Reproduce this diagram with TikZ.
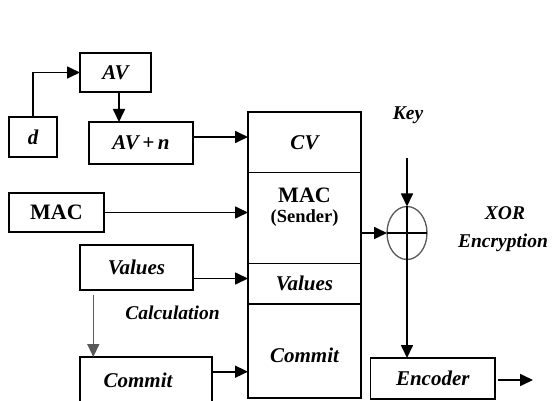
\documentclass[tikz,border=0pt]{standalone}
\usepackage{fontspec}
\setmainfont{Liberation Serif}
\usetikzlibrary{arrows.meta,shapes.geometric}
\begin{document}
\begin{tikzpicture}[x=1pt,y=-1pt,
  every node/.style={inner sep=0pt,outer sep=0pt},
  txt/.style={font=\fontsize{21}{23}\selectfont\bfseries\itshape},
  stxt/.style={font=\fontsize{19.5}{21}\selectfont\bfseries\itshape},
  upr/.style={font=\fontsize{22}{24}\selectfont\bfseries},
  bx/.style={draw,line width=1.7pt,rectangle,txt},
  arr/.style={line width=1.7pt,-{Triangle[length=13pt,width=12pt]}},
  garr/.style={line width=1.4pt,draw=black!65,-{Triangle[length=13pt,width=12pt]}},
  ln/.style={line width=1.7pt}]
\useasboundingbox (0,0) rectangle (552,401);
\begin{scope}
\clip (0,0) rectangle (552,401);
% left boxes
\node[bx,minimum width=48pt,minimum height=40pt] (d) at (33,137) {d};
\node[bx,minimum width=71pt,minimum height=39pt] (av) at (115.5,72.5) {AV};
\node[bx,minimum width=104pt,minimum height=42pt] (avn) at (141,143) {AV\,+\,n};
\node[bx,upr,minimum width=95pt,minimum height=39pt] (macl) at (56.5,212.5) {MAC};
\node[bx,minimum width=113pt,minimum height=45pt] (vall) at (136.5,267.5) {Values};
\node[draw,line width=1.7pt,minimum width=132pt,minimum height=48pt] (coml) at (146,381) {};
\node[txt] (comlt) at (138,380) {Commit};
% big box sections
\node[draw,line width=1.7pt,minimum width=113pt,minimum height=60.5pt,txt] (cv) at (304.5,142.25) {CV};
\node[draw,line width=1.7pt,minimum width=113pt,minimum height=91pt] (mac) at (304.5,218) {};
\node[upr] (mact) at (304.5,195) {MAC};
\node[font=\fontsize{18.5}{20}\selectfont\bfseries] (sendt) at (304.5,218) {(Sender)};
\node[draw,line width=1.7pt,minimum width=113pt,minimum height=40.5pt,txt] (vals) at (304.5,283.75) {Values};
\node[draw,line width=1.7pt,minimum width=113pt,minimum height=94pt] (com) at (304.5,351) {};
\node[txt] (comt) at (304.5,355) {Commit};
% XOR
\node[ellipse,draw=black!65,line width=1.3pt,minimum width=40pt,minimum height=53pt] (xo) at (407,233) {};
\draw[ln] (xo.west) -- (xo.east);
\draw[ln] (xo.north) -- (xo.south);
\node[stxt] (key) at (408,115) {Key};
\coordinate (keytop) at (407,158);
\node[stxt] (xor) at (505,213) {XOR};
\node[stxt] (enct) at (503,243) {Encryption};
\node[stxt] (calc) at (172.5,313) {Calculation};
% encoder
\node[bx,minimum width=124.5pt,minimum height=41pt] (enc) at (432.75,378.5) {Encoder};
\coordinate (outend) at (533,380);
% connectors
\draw[arr] (d.north) |- (av.west);
\draw[arr] ([xshift=3.5pt]av.south) -- ([xshift=3.5pt]av.south |- avn.north);
\draw[arr] ([yshift=6pt]avn.east) -- ([yshift=6pt]avn.east -| cv.west);
\draw[arr] (macl.east) -- (macl.east -| mac.west);
\draw[arr] ([yshift=-11pt]vall.east) -- ([yshift=-11pt]vall.east -| vals.west);
\coordinate (cstart) at (93.3,295);
\draw[garr] (cstart) -- (cstart |- coml.north);
\draw[arr] (coml.east |- 0,371.7) -- (com.west |- 0,371.7);
\draw[arr] (xo.west -| mac.east) -- (xo.west);
\draw[arr] (keytop) -- (xo.north);
\draw[arr] (xo.south) -- (xo.south |- enc.north);
\draw[arr] ([xshift=3pt,yshift=-1.5pt]enc.east) -- (outend);
\end{scope}
\end{tikzpicture}
\end{document}
